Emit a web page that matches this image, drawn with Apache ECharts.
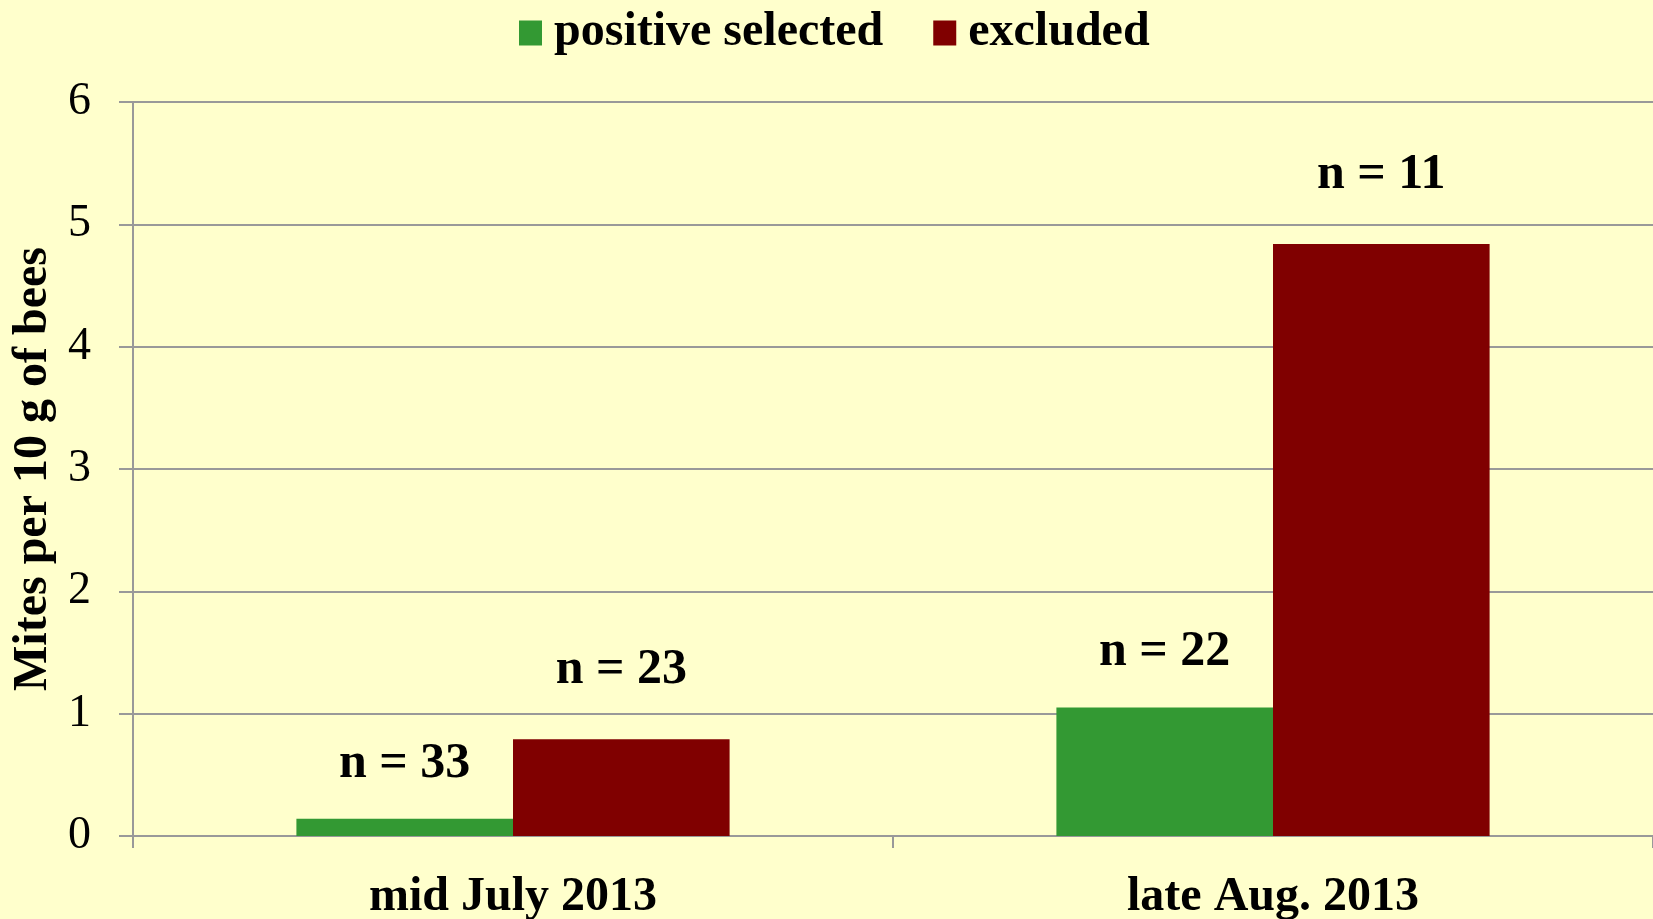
<!DOCTYPE html>
<html>
<head>
<meta charset="utf-8">
<script src="https://cdn.jsdelivr.net/npm/echarts@6/dist/echarts.min.js"></script>
<style>
html,body{margin:0;padding:0;background:#FFFFCC;}
#chart{width:1653px;height:919px;}
</style>
</head>
<body>
<div id="chart"></div>
<script>
var categories = ['mid July 2013', 'late Aug. 2013'];
var seriesNames = ['positive selected', 'excluded'];
var positiveValues = [0.14, 1.05];
var excludedValues = [0.79, 4.84];
var positiveN = [33, 22];
var excludedN = [23, 11];
var yTicks = [0, 1, 2, 3, 4, 5, 6];

var FONT = '"Liberation Serif", "Times New Roman", serif';
var chart = echarts.init(document.getElementById('chart'));

function labelFor(nArr, dist) {
  return {
    show: true,
    position: 'top',
    distance: dist,
    fontFamily: FONT,
    fontWeight: 'bold',
    fontSize: 50,
    color: '#000',
    formatter: function (p) { return 'n = ' + nArr[p.dataIndex]; }
  };
}

chart.setOption({
  backgroundColor: '#FFFFCC',
  animation: false,
  legend: {
    top: 4,
    left: 514,
    itemWidth: 23,
    itemHeight: 25,
    itemGap: 50,
    icon: 'rect',
    data: seriesNames,
    textStyle: {
      fontFamily: FONT,
      fontWeight: 'bold',
      fontSize: 48,
      color: '#000',
      padding: [0, 0, 0, 7]
    }
  },
  grid: { left: 133, right: 0, top: 102, bottom: 83, containLabel: false, outerBoundsMode: 'none' },
  xAxis: {
    type: 'category',
    data: categories,
    boundaryGap: true,
    axisLine: { show: true, lineStyle: { color: '#999999', width: 2 } },
    axisTick: { show: true, length: 12, lineStyle: { color: '#999999', width: 2 } },
    axisLabel: {
      margin: 38,
      fontFamily: FONT,
      fontWeight: 'bold',
      fontSize: 48,
      color: '#000'
    },
    splitLine: { show: false }
  },
  yAxis: {
    type: 'value',
    min: yTicks[0],
    max: yTicks[yTicks.length - 1],
    interval: 1,
    name: 'Mites per 10 g of bees',
    nameLocation: 'middle',
    nameGap: 73,
    nameRotate: 90,
    nameTextStyle: {
      fontFamily: FONT,
      fontWeight: 'bold',
      fontSize: 48,
      color: '#000'
    },
    axisLine: { show: true, lineStyle: { color: '#999999', width: 2 } },
    axisTick: { show: true, length: 14, lineStyle: { color: '#999999', width: 2 } },
    axisLabel: {
      margin: 42,
      fontFamily: FONT,
      fontSize: 46,
      color: '#000'
    },
    splitLine: { show: true, lineStyle: { color: '#999999', width: 2 } }
  },
  series: [
    {
      name: seriesNames[0],
      type: 'bar',
      data: positiveValues,
      barGap: '0%',
      barCategoryGap: '43%',
      itemStyle: { color: '#339933' },
      label: labelFor(positiveN, 30)
    },
    {
      name: seriesNames[1],
      type: 'bar',
      data: excludedValues,
      barGap: '0%',
      barCategoryGap: '43%',
      itemStyle: { color: '#800000' },
      label: labelFor(excludedN, 44)
    }
  ]
});
</script>
</body>
</html>
